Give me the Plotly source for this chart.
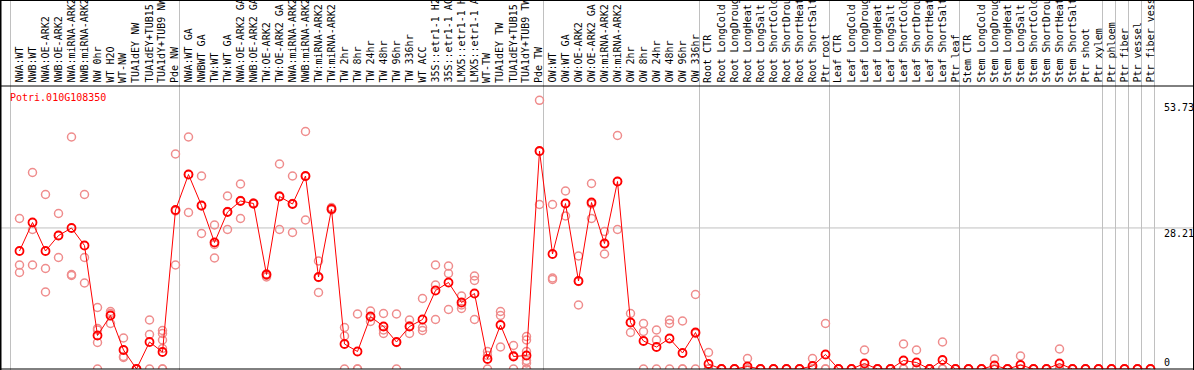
import plotly.graph_objects as go

title_text = "Potri.010G108350"

categories = [
    "NWA:WT", "NWB:WT", "NWA:OE-ARK2", "NWB:OE-ARK2", "NWA:miRNA-ARK2", "NWB:miRNA-ARK2",
    "NW 0hr", "WT H2O", "WT-NW", "TUA1dEY NW", "TUA1dEY+TUB15", "TUA1dY+TUB9 NW", "Pde NW",
    "NWA:WT GA", "NWBWT GA", "TW:WT", "TW:WT GA", "NWA:OE-ARK2 GA", "NWB:OE-ARK2 GA",
    "TW:OE-ARK2", "TW:OE-ARK2 GA", "NWA:miRNA-ARK2", "NWB:miRNA-ARK2", "TW:miRNA-ARK2",
    "TW:miRNA-ARK2", "TW 2hr", "TW 8hr", "TW 24hr", "TW 48hr", "TW 96hr", "TW 336hr",
    "WT ACC", "35S::etr1-1 H2", "35S::etr1-1 AC", "LMX5::etr1-1 H", "LMX5::etr1-1 A",
    "WT-TW", "TUA1dEY TW", "TUA1dEY+TUB15", "TUA1dY+TUB9 TW", "Pde TW",
    "OW:WT", "OW:WT GA", "OW:OE-ARK2", "OW:OE-ARK2 GA", "OW:miRNA-ARK2", "OW:miRNA-ARK2",
    "OW 2hr", "OW 8hr", "OW 24hr", "OW 48hr", "OW 96hr", "OW 336hr",
    "Root CTR", "Root LongCold", "Root LongDroug", "Root LongHeat", "Root LongSalt",
    "Root ShortCold", "Root ShortDrou", "Root ShortHeat", "Root ShortSalt", "Ptr root",
    "Leaf CTR", "Leaf LongCold", "Leaf LongDroug", "Leaf LongHeat", "Leaf LongSalt",
    "Leaf ShortCold", "Leaf ShortDrou", "Leaf ShortHeat", "Leaf ShortSalt", "Ptr leaf",
    "Stem CTR", "Stem LongCold", "Stem LongDroug", "Stem LongHeat", "Stem LongSalt",
    "Stem ShortCold", "Stem ShortDrou", "Stem ShortHeat", "Stem ShortSalt", "Ptr shoot",
    "Ptr xylem", "Ptr phloem", "Ptr fiber", "Ptr vessel", "Ptr fiber vess",
]

# index of the first category of each group (group separators)
group_starts = [0, 13, 41, 53, 63, 73, 84, 85, 86, 87, 88]

means = [
    23.6, 29.3, 23.6, 26.7, 28.2, 24.7, 6.7, 10.7, 3.8, 0.0, 5.4, 3.4, 31.8,
    38.9, 32.7, 25.3, 31.4, 33.6, 33.1, 18.9, 34.5, 33.0, 38.6, 18.4, 32.0, 5.0, 3.5,
    10.5, 8.5, 5.4, 8.5, 9.9, 15.7, 17.3, 13.3, 15.1, 2.0, 8.8, 2.5, 2.7, 43.6,
    23.0, 33.1, 17.6, 33.3, 25.1, 37.5, 9.3, 5.6, 4.4, 6.1, 3.2, 7.3,
    1.0, 0.0, 0.0, 0.5, 0.0, 0.0, 0.0, 0.0, 0.6, 2.9,
    0.0, 0.0, 1.1, 0.0, 0.0, 1.7, 1.3, 0.0, 1.8, 0.0,
    0.0, 0.0, 0.7, 0.0, 0.8, 0.0, 0.0, 1.1, 0.0, 0.0, 0.0,
    0.0, 0.0, 0.0, 0.0,
]

replicates = [
    [30.1, 20.8, 19.3], [39.3, 27.9, 20.8], [34.9, 20.1, 15.4], [31.1, 26.7, 22.3],
    [46.4, 18.9, 18.7], [34.9, 22.3, 17.2], [12.3, 8.1, 7.8, 5.3, 0.0], [11.5, 11.1, 9.1],
    [6.2, 2.5, 2.3], [0.0, 0.0, 0.0], [9.8, 6.9, 0.0], [7.7, 7.1, 5.8, 4.1, 0.0, 0.0],
    [43.0, 31.6, 20.8],
    [46.4, 38.9, 31.3], [38.6, 32.6, 27.1], [28.8, 24.9, 22.2], [34.6, 31.5, 27.9],
    [37.0, 33.7, 30.1], [33.2, 33.0, 33.1], [19.0, 18.7, 18.4], [41.0, 34.6, 27.9],
    [38.6, 33.1, 27.3], [47.5, 38.5, 29.8], [21.6, 18.3, 15.3], [32.3, 31.8, 31.9],
    [8.3, 6.6, 0.0], [11.0, 0.0, 0.0], [11.6, 10.4, 9.5], [11.1, 7.8, 7.1],
    [11.0, 5.3, 0.0], [9.8, 8.6, 7.1], [14.1, 8.3, 7.7], [20.8, 16.8, 9.9],
    [20.6, 19.1, 11.9], [14.6, 12.8, 12.1], [18.6, 17.7, 9.9], [3.5, 2.7, 0.0],
    [11.5, 10.7, 4.4], [4.7, 2.7, 0.0], [6.5, 5.8, 3.5, 1.7, 1.2, 0.0, 0.0],
    [53.73, 43.5, 32.9],
    [32.9, 18.2, 17.9], [35.6, 33.1, 30.6], [22.6, 17.5, 12.8], [37.1, 33.0, 30.1],
    [27.5, 25.0, 23.0], [46.7, 37.5, 27.9], [11.1, 9.3, 7.3], [9.1, 7.5, 0.0],
    [7.8, 5.8, 0.0], [9.8, 9.1, 0.0], [9.6, 0.0, 0.0], [14.9, 7.1, 0.0],
    [3.3, 0.0, 0.0], [0.0, 0.0, 0.0], [0.0, 0.0, 0.0], [2.1, 0.0, 0.0], [0.0, 0.0, 0.0],
    [0.0, 0.0, 0.0], [0.0, 0.0, 0.0], [0.0, 0.0, 0.0], [2.1, 0.0, 0.0], [9.1, 0.0, 0.0],
    [0.0, 0.0, 0.0], [0.0, 0.0, 0.0], [3.8, 0.0, 0.0], [0.0, 0.0, 0.0], [0.0, 0.0, 0.0],
    [5.0, 0.0, 0.0], [3.8, 0.0, 0.0], [0.0, 0.0, 0.0], [5.4, 0.0, 0.0], [0.0, 0.0, 0.0],
    [0.0, 0.0, 0.0], [0.0, 0.0, 0.0], [2.0, 0.0, 0.0], [0.0, 0.0, 0.0], [2.6, 0.0, 0.0],
    [0.0, 0.0, 0.0], [0.0, 0.0, 0.0], [4.0, 0.0, 0.0], [0.0, 0.0, 0.0], [0.0, 0.0, 0.0],
    [0.0, 0.0, 0.0],
    [0.0, 0.0, 0.0], [0.0, 0.0, 0.0], [0.0, 0.0, 0.0], [0.0, 0.0, 0.0],
]

y_tick_values = [53.73, 28.21, 0]
y_tick_labels = ["53.73", "28.21", "0"]

# ---------------------------------------------------------------- layout geometry
W, H = 1194, 370
PX_PER_CAT = 13.0
FIRST_PT_PX = 19.5
PLOT_TOP_PX = 86
PLOT_BOT_PX = 369
Y_PX_PER_UNIT = 5.0

x_lo = -FIRST_PT_PX / PX_PER_CAT
x_hi = x_lo + W / PX_PER_CAT
y_hi = (PLOT_BOT_PX - PLOT_TOP_PX) / Y_PX_PER_UNIT


def py(px):
    return (H - px) / H


def pxx(px):
    return px / W


FONT = "DejaVu Sans Mono"

xs = list(range(len(categories)))
rep_x, rep_y = [], []
for i, reps in enumerate(replicates):
    for v in reps:
        rep_x.append(i)
        rep_y.append(v)

fig = go.Figure()
fig.add_trace(go.Scatter(
    x=rep_x, y=rep_y, mode="markers",
    marker=dict(symbol="circle-open", size=8, color="#ef8c8c", line=dict(width=1.5, color="#ef8c8c")),
    hoverinfo="skip", showlegend=False,
))
fig.add_trace(go.Scatter(
    x=xs, y=means, mode="lines+markers",
    line=dict(color="#ff0000", width=1),
    marker=dict(symbol="circle-open", size=8, color="#ff0000", line=dict(width=1.8, color="#ff0000")),
    showlegend=False,
))

shapes = []
# vertical group separators (full height)
for g in group_starts:
    xv = g - (FIRST_PT_PX - 10.5) / PX_PER_CAT
    shapes.append(dict(type="line", xref="x", yref="paper", x0=xv, x1=xv, y0=0, y1=1,
                       line=dict(color="#c0c0c0", width=1), layer="below"))
# horizontal grid at middle value
shapes.append(dict(type="line", xref="paper", yref="y", x0=0, x1=1, y0=y_tick_values[1], y1=y_tick_values[1],
                   line=dict(color="#c0c0c0", width=1), layer="below"))
# black frame lines
blk = dict(color="#000000", width=1)
shapes.append(dict(type="line", xref="paper", yref="paper", x0=0, x1=1, y0=py(0.5), y1=py(0.5), line=blk))
shapes.append(dict(type="line", xref="paper", yref="paper", x0=0, x1=1, y0=py(PLOT_TOP_PX), y1=py(PLOT_TOP_PX), line=blk))
shapes.append(dict(type="line", xref="paper", yref="paper", x0=0, x1=1, y0=py(PLOT_BOT_PX), y1=py(PLOT_BOT_PX), line=blk))
shapes.append(dict(type="line", xref="paper", yref="paper", x0=pxx(0.5), x1=pxx(0.5), y0=0, y1=1,
                   line=dict(color="#000000", width=2)))
shapes.append(dict(type="line", xref="paper", yref="paper", x0=pxx(W - 0.5), x1=pxx(W - 0.5), y0=0, y1=1, line=blk))

annotations = []
for i, lab in enumerate(categories):
    annotations.append(dict(
        x=i, xref="x", y=py(PLOT_TOP_PX - 2), yref="paper", text=lab, showarrow=False,
        textangle=-90, xanchor="center", yanchor="bottom", xshift=-1,
        font=dict(family=FONT, size=10, color="#000000"), borderpad=0,
    ))
annotations.append(dict(
    x=pxx(9), xref="paper", y=py(97), yref="paper", text=title_text, showarrow=False,
    xanchor="left", yanchor="middle", font=dict(family=FONT, size=10, color="#ff0000"), borderpad=0,
))
label_centers_px = [107, 233, 362]
for lab, cy in zip(y_tick_labels, label_centers_px):
    annotations.append(dict(
        x=pxx(1163), xref="paper", y=py(cy), yref="paper", text=lab, showarrow=False,
        xanchor="left", yanchor="middle", font=dict(family=FONT, size=10, color="#000000"), borderpad=0,
    ))

fig.update_layout(
    width=W, height=H,
    margin=dict(l=0, r=0, t=0, b=0, pad=0),
    paper_bgcolor="#ffffff", plot_bgcolor="rgba(0,0,0,0)",
    xaxis=dict(range=[x_lo, x_hi], domain=[0, 1], showgrid=False, zeroline=False,
               showticklabels=False, ticks="", showline=False, fixedrange=True),
    yaxis=dict(range=[0, y_hi], domain=[py(PLOT_BOT_PX), py(PLOT_TOP_PX)], showgrid=False,
               zeroline=False, showticklabels=False, ticks="", showline=False, fixedrange=True),
    shapes=shapes, annotations=annotations, showlegend=False,
)

fig.write_html(
    "out.html",
    config={"displayModeBar": False},
    post_script="document.documentElement.style.margin='0';document.body.style.margin='0';"
                "document.body.style.padding='0';document.body.style.overflow='hidden';",
)
